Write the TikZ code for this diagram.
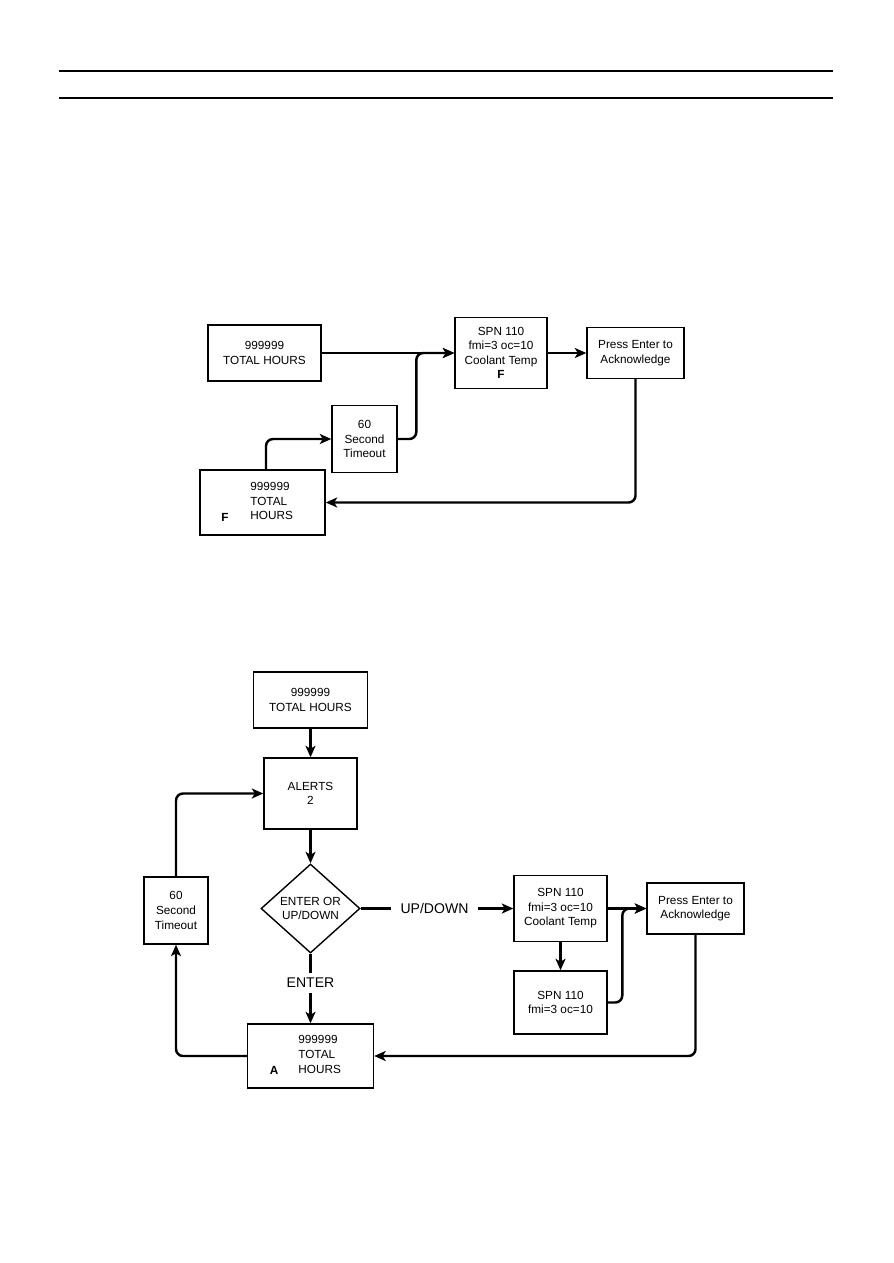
\documentclass[tikz,border=0pt]{standalone}
\usepackage{fontspec}
\setmainfont{Liberation Sans}
\usetikzlibrary{arrows.meta,shapes.geometric}

\begin{document}
\begin{tikzpicture}[
    x=0.2mm, y=-0.2mm,
    font=\fontsize{6.7}{8.3}\selectfont,
    box/.style={draw, line width=0.8pt, align=center, inner sep=0pt},
    choice/.style={diamond, draw, line width=0.8pt, align=center, inner sep=0pt},
    txt/.style={align=left, inner sep=0pt},
    flag/.style={inner sep=0pt, font=\fontsize{6.7}{8.3}\selectfont\bfseries},
    key/.style={inner xsep=1.8mm, inner ysep=1mm, font=\fontsize{8}{9.6}\selectfont},
    link/.style={line width=1.4pt, rounded corners=1.4mm},
    flow/.style={link, -{Stealth[length=2.3mm, width=2mm, inset=0.6mm]}}
]
\useasboundingbox (0,0) rectangle (893,1263);

% Page rules
\draw[line width=0.6pt] (59,71) -- (833,71);
\draw[line width=0.6pt] (59,98) -- (833,98);

% Upper chart
\node[box, minimum width=22.6mm, minimum height=11.2mm] (hrs1) at (264.5,353) {999999\\TOTAL HOURS};
\node[box, minimum width=18.4mm, minimum height=14.2mm] (spn1) at (501,353) {SPN 110\\fmi=3 oc=10\\Coolant Temp\\\textbf{F}};
\node[box, minimum width=19.4mm, minimum height=10.2mm] (ack1) at (635.5,353) {Press Enter to\\Acknowledge};
\node[box, minimum width=13mm, minimum height=13.4mm] (tmo1) at (364.5,439) {60\\Second\\Timeout};
\node[box, minimum width=25mm, minimum height=13mm] (hrsF) at (262.5,502.5) {};
\node[txt, anchor=west] (hrsFt) at (250,501) {999999\\TOTAL\\HOURS};
\node[flag] (hrsFf) at (225,517) {F};

% Upper connections
\draw[flow] (hrs1) -- (spn1);
\draw[flow] (spn1) -- (ack1);
\draw[flow] (tmo1.east) -| ([xshift=-7.6mm]spn1.west) -- (spn1.west);
\draw[flow] (ack1.south) |- (hrsF.east);
\draw[flow] ([xshift=0.7mm]hrsF.north) |- (tmo1.west);

% Lower chart
\node[box, minimum width=22.8mm, minimum height=11.2mm] (hrs2) at (310.5,700) {999999\\TOTAL HOURS};
\node[box, minimum width=18.6mm, minimum height=14.2mm] (alr) at (310.5,793.5) {ALERTS\\2};
\node[choice, minimum width=19.8mm, minimum height=17.8mm] (ask) at (310.5,908.5) {ENTER OR\\UP/DOWN};
\node[key] (enter) at (310.5,983) {ENTER};
\node[box, minimum width=25.2mm, minimum height=12.8mm] (hrsA) at (310.5,1056) {};
\node[txt, anchor=west] (hrsAt) at (298,1054.5) {999999\\TOTAL\\HOURS};
\node[flag] (hrsAf) at (274,1070) {A};
\node[box, minimum width=12.8mm, minimum height=13.4mm] (tmo2) at (176,910.5) {60\\Second\\Timeout};
\node[key] (updown) at (434.5,908.5) {UP/DOWN};
\node[box, minimum width=18.6mm, minimum height=13.2mm] (spn2) at (560.5,908.5) {SPN 110\\fmi=3 oc=10\\Coolant Temp};
\node[box, minimum width=18.6mm, minimum height=12.6mm] (spn3) at (560.5,1002.5) {SPN 110\\fmi=3 oc=10};
\node[box, minimum width=19.4mm, minimum height=10.2mm] (ack2) at (695.5,908.5) {Press Enter to\\Acknowledge};

% Lower connections
\draw[flow] (hrs2) -- (alr);
\draw[flow] (alr) -- (ask);
\draw[link] (ask) -- (enter);
\draw[flow] (enter) -- (hrsA);
\draw[link] (ask) -- (updown);
\draw[flow] (updown) -- (spn2);
\draw[flow] (spn2) -- (spn3);
\draw[flow] (spn2) -- (ack2);
\draw[flow] (spn3.east) -| ([xshift=-4.8mm]ack2.west) -- (ack2.west);
\draw[flow] (ack2.south) |- (hrsA.east);
\draw[flow] (hrsA.west) -| (tmo2.south);
\draw[flow] (tmo2.north) |- (alr.west);

\end{tikzpicture}
\end{document}
